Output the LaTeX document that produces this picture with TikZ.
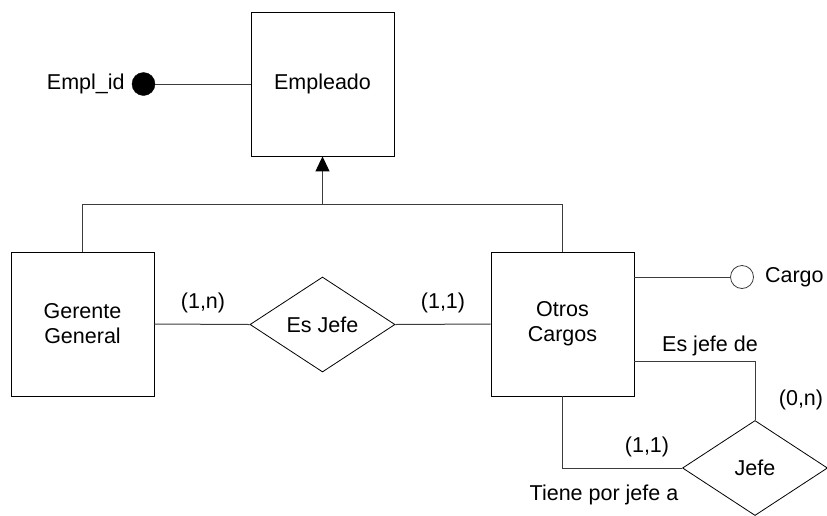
\documentclass[tikz,border=0pt]{standalone}
\usepackage{fontspec}
\setmainfont{Liberation Sans}
\usepackage{tikz}
\usetikzlibrary{positioning, shapes.geometric, arrows.meta}
\tikzstyle{canvas} = [x = 1pt, y = -1pt, every node/.style={font=\fontsize{21.5}{25}\selectfont}]
\definecolor{linkColor}{RGB}{60,60,60}
\tikzstyle{entityStyle} = [draw=black, fill=white, line width=.8pt, minimum width=143pt, minimum height=144pt, align=center, inner sep=0pt]
\tikzstyle{relationStyle} = [draw=black, fill=white, diamond, line width=.8pt, minimum width=145pt, minimum height=95pt, aspect=1.53, inner sep=0pt]
\tikzstyle{keyAttrStyle} = [circle, draw=black, fill=black, minimum size=23pt, inner sep=0pt]
\tikzstyle{attrStyle} = [circle, draw=linkColor, fill=white, line width=.8pt, minimum size=23pt, inner sep=0pt]
\tikzstyle{linkLine} = [color=linkColor, line width=1pt]
\tikzstyle{cardText} = [inner sep=0pt]
\newcommand{\cardinality}[4]{\node [cardText] (#1) at (#2, #3) {#4};}

\begin{document}
\begin{tikzpicture}[canvas]
        \useasboundingbox (0,0) rectangle (827,515);

        % entidades
        \node [entityStyle] (empleado) at (322.5, 84) {Empleado};
        \node [entityStyle] (gerente) at (82.5, 324) {Gerente\\General};
        \node [entityStyle] (otros) at (562.5, 324) {Otros\\Cargos};

        % relaciones
        \node [relationStyle] (esJefe) at (322.5, 324.5) {Es Jefe};
        \node [relationStyle] (jefe) at (755, 468) {Jefe};

        % atributos
        \node [keyAttrStyle] (emplIdDot) at (143.5, 84) {};
        \node [cardText, left = 7pt of emplIdDot] (emplId) {Empl\_id};
        \node [attrStyle] (cargoDot) at (742, 277) {};
        \node [cardText, right = 11pt of cargoDot] (cargo) {Cargo};

        % jerarquia
        \coordinate (isa) at (322.5, 204.5);
        \draw [linkLine, -{Triangle[width=14pt, length=15pt, fill=black, color=black]}] (isa) -- (empleado.south);
        \draw [linkLine] (gerente.north) |- (isa) -| (otros.north);

        % conectores
        \draw [linkLine] (emplIdDot) -- (empleado.west);
        \draw [linkLine] ([yshift=47pt]otros.east) -- (cargoDot.west);
        \draw [linkLine] (gerente.east) -- (esJefe.west);
        \draw [linkLine] (esJefe.east) -- (otros.west);
        \draw [linkLine] ([yshift=-37pt]otros.east) -| (jefe.north);
        \draw [linkLine] (otros.south) |- (jefe.west);

        % cardinalidades y roles
        \cardinality{cardGerente}{203}{303}{(1,n)}
        \cardinality{cardOtros}{443}{303}{(1,1)}
        \cardinality{cardJefeDe}{801}{400}{(0,n)}
        \cardinality{cardTiene}{647}{447}{(1,1)}
        \cardinality{rolJefeDe}{710}{346}{Es jefe de}
        \cardinality{rolTiene}{604}{495}{Tiene por jefe a}
      \end{tikzpicture}
\end{document}
